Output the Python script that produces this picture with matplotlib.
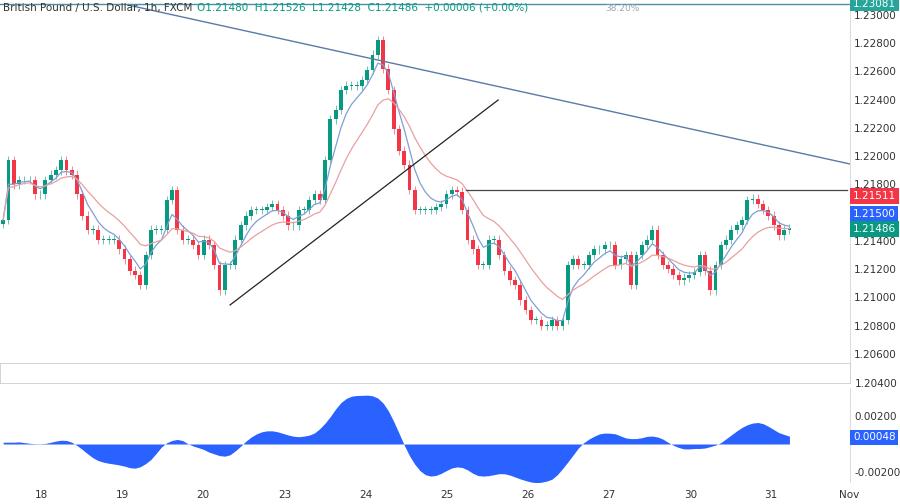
import matplotlib
matplotlib.use("Agg")
import matplotlib.pyplot as plt
import numpy as np
import pandas as pd

closes = [1.2155,1.2197,1.2180,1.2183,1.2183,1.2183,1.2173,1.2173,1.2183,1.2187,1.2190,1.2197,1.2190,1.2187,
          1.2173,1.2158,1.2148,1.2148,1.2141,1.2141,1.2141,1.2141,1.2134,1.2127,1.2119,1.2116,1.2109,1.2130,
          1.2148,1.2148,1.2148,1.2169,1.2176,1.2148,1.2141,1.2141,1.2137,1.2130,1.2141,1.2137,1.2123,1.2105,
          1.2123,1.2123,1.2141,1.2151,1.2158,1.2162,1.2162,1.2162,1.2164,1.2166,1.2162,1.2158,1.2151,1.2151,
          1.2162,1.2162,1.2169,1.2173,1.2169,1.2197,1.2226,1.2233,1.2247,1.2250,1.2250,1.2250,1.2254,1.2261,
          1.2272,1.2282,1.2262,1.2247,1.2219,1.2204,1.2194,1.2176,1.2162,1.2162,1.2162,1.2162,1.2164,1.2166,
          1.2173,1.2176,1.2175,1.2162,1.2141,1.2134,1.2123,1.2123,1.2141,1.2141,1.2130,1.2119,1.2112,1.2109,
          1.2098,1.2091,1.2084,1.2084,1.2080,1.2080,1.2084,1.2080,1.2084,1.2123,1.2127,1.2123,1.2123,1.2130,
          1.2134,1.2134,1.2137,1.2137,1.2123,1.2127,1.2130,1.2109,1.2130,1.2137,1.2141,1.2148,1.2130,1.2123,
          1.2120,1.2116,1.2112,1.2114,1.2116,1.2118,1.2130,1.2119,1.2105,1.2123,1.2137,1.2141,1.2148,1.2151,
          1.2155,1.2169,1.2170,1.2166,1.2162,1.2158,1.2151,1.2144,1.2148,1.2149]
wick = 0.00030
day_labels = ["18","19","20","23","24","25","26","27","30","31","Nov"]
day_pos = [7.2,22.6,37.9,53.4,68.7,84.0,99.4,114.7,130.2,145.5,160.4]
price_ticks = [1.2300,1.2280,1.2260,1.2240,1.2220,1.2200,1.2180,1.2140,1.2120,1.2100,1.2080,1.2060]
osc_ticks = [0.002,-0.002]

c = np.array(closes)
o = np.r_[c[0]-0.0003, c[:-1]]
hi = np.maximum(o, c) + wick
lo = np.minimum(o, c) - wick
x = np.arange(len(c))
s = pd.Series(c)
fast = s.ewm(span=5).mean()
slow = s.ewm(span=14).mean()
osc = (s.ewm(span=6).mean() - s.ewm(span=18).mean()).rolling(5, min_periods=1, center=True).mean()

XMAX = 160.4
green, red = "#089981", "#f23645"
fig = plt.figure(figsize=(9, 5.04), dpi=100)
ax = fig.add_axes([0, 0.2798, 0.944, 0.7202])
for i in x:
    col = green if c[i] >= o[i] else red
    ax.vlines(i, lo[i], hi[i], color=col, lw=0.7, alpha=0.6)
    ax.bar(i, max(abs(c[i]-o[i]), 0.00004), bottom=min(o[i], c[i]), width=0.72, color=col)
ax.plot(x, fast, color="#7f9fd6", lw=0.9)
ax.plot(x, slow, color="#e8a0a0", lw=0.9)
ax.plot([23.6, 161.3], [1.23071, 1.21938], color="#5b7aa8", lw=1)
ax.plot([43.0, 93.8], [1.20947, 1.22398], color="#222222", lw=0.9)
ax.plot([87.7, 160.0], [1.21761, 1.21761], color="#444444", lw=0.9)
ax.axhline(1.2308, color="#4a90a4", lw=1)
ax.text(117.4, 1.23075, "38.20%", color="#9aa6b8", fontsize=6.5, ha="center", va="top")
ax.set_xlim(-0.6, XMAX)
ax.set_ylim(1.20536, 1.23106)
ax.yaxis.tick_right()
ax.set_yticks(price_ticks)
ax.set_yticklabels([f"{t:.5f}" for t in price_ticks])
ax.tick_params(axis="y", length=0, labelsize=7.5, labelcolor="#333333", pad=3)
ax.set_xticks([])
for sp in ax.spines.values():
    sp.set_visible(False)
ax.spines["right"].set_visible(True); ax.spines["right"].set_color("#dddddd")
ax.text(0.004, 0.993, "British Pound / U.S. Dollar, 1h, FXCM ", transform=ax.transAxes,
        fontsize=7.5, color="#333333", va="top")
ax.text(0.232, 0.993, "O1.21480  H1.21526  L1.21428  C1.21486  +0.00006 (+0.00%)",
        transform=ax.transAxes, fontsize=7.5, color="#089981", va="top")
tags = [(1.23081, "#26a69a", 1.23081), (1.21511, "#f23645", 1.21718),
        (1.21500, "#2962ff", 1.21591), (1.21486, "#089981", 1.21485)]
for val, col, ypos in tags:
    ax.text(1.004, ypos, f"{val:.5f}", transform=ax.get_yaxis_transform(),
            fontsize=7.5, color="white", va="center", ha="left",
            bbox=dict(boxstyle="square,pad=0.25", fc=col, ec="none"))

ax2 = fig.add_axes([0, 0.24, 0.944, 0.0397])
ax2.set_xlim(-0.6, XMAX); ax2.set_ylim(0, 1)
ax2.set_xticks([]); ax2.yaxis.tick_right(); ax2.set_yticks([0.0])
ax2.set_yticklabels(["1.20400"]); ax2.tick_params(length=0, labelsize=7.5, labelcolor="#333333")
for sp in ax2.spines.values():
    sp.set_color("#cccccc"); sp.set_linewidth(0.6)

ax3 = fig.add_axes([0, 0.0437, 0.944, 0.1865])
ax3.fill_between(x, 0, osc, color="#2962ff", lw=0)
ax3.set_xlim(-0.6, XMAX); ax3.set_ylim(-0.00271, 0.0040)
ax3.yaxis.tick_right(); ax3.set_yticks(osc_ticks)
ax3.set_yticklabels(["0.00200", "-0.00200"])
ax3.tick_params(axis="y", length=0, labelsize=7.5, labelcolor="#333333")
ax3.set_xticks(day_pos); ax3.set_xticklabels(day_labels)
ax3.tick_params(axis="x", length=0, labelsize=7.5, labelcolor="#333333", pad=6)
for sp in ax3.spines.values():
    sp.set_visible(False)
ax3.spines["right"].set_visible(True); ax3.spines["right"].set_color("#dddddd")
ax3.text(1.004, 0.00048, "0.00048", transform=ax3.get_yaxis_transform(), fontsize=7.5, color="white",
         va="center", ha="left", bbox=dict(boxstyle="square,pad=0.25", fc="#2962ff", ec="none"))
fig.savefig("out.png", dpi=100)
